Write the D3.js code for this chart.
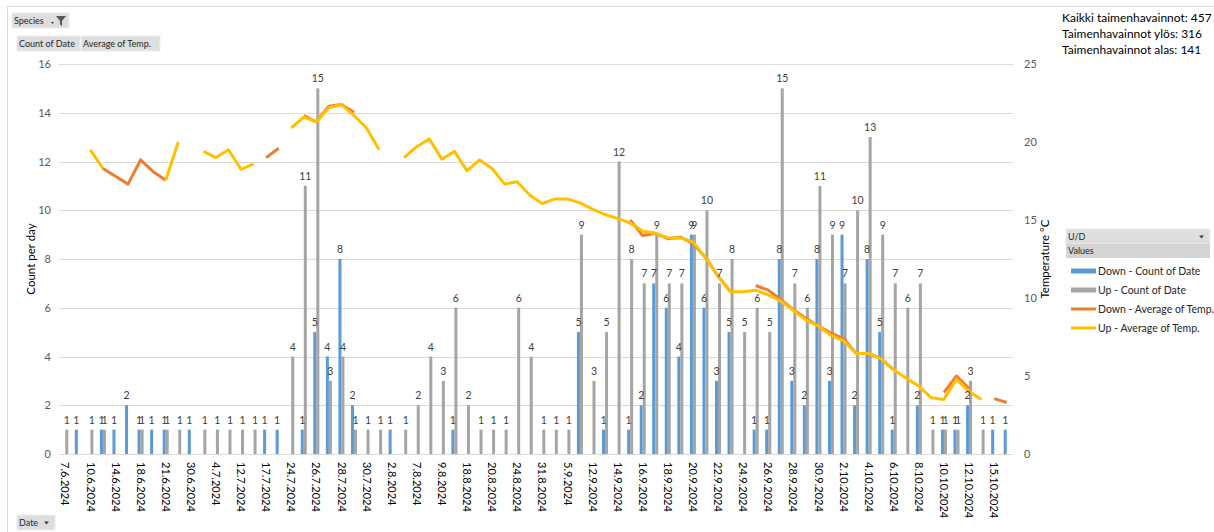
<!DOCTYPE html>
<html>
<head>
<meta charset="utf-8">
<script src="https://cdn.jsdelivr.net/npm/d3@7"></script>
<style>
    body { margin: 0; background: #fff; }
    svg { display: block; font-family: Lato, "Liberation Sans", sans-serif; }
</style>
</head>
<body>
<svg id="chart" width="1214" height="532"></svg>
<script>
"use strict";

// one category per observation day
var dates = [
    '7.6.2024', '8.6.2024', '10.6.2024', '12.6.2024', '14.6.2024', '16.6.2024', '18.6.2024', '19.6.2024',
    '21.6.2024', '25.6.2024', '30.6.2024', '2.7.2024', '4.7.2024', '8.7.2024', '12.7.2024', '15.7.2024',
    '17.7.2024', '21.7.2024', '24.7.2024', '25.7.2024', '26.7.2024', '27.7.2024', '28.7.2024', '29.7.2024',
    '30.7.2024', '31.7.2024', '2.8.2024', '5.8.2024', '7.8.2024', '8.8.2024', '9.8.2024', '14.8.2024',
    '18.8.2024', '19.8.2024', '20.8.2024', '22.8.2024', '24.8.2024', '27.8.2024', '31.8.2024', '3.9.2024',
    '5.9.2024', '9.9.2024', '12.9.2024', '13.9.2024', '14.9.2024', '15.9.2024', '16.9.2024', '17.9.2024',
    '18.9.2024', '19.9.2024', '20.9.2024', '21.9.2024', '22.9.2024', '23.9.2024', '24.9.2024', '25.9.2024',
    '26.9.2024', '27.9.2024', '28.9.2024', '29.9.2024', '30.9.2024', '1.10.2024', '2.10.2024', '3.10.2024',
    '4.10.2024', '5.10.2024', '6.10.2024', '7.10.2024', '8.10.2024', '9.10.2024', '10.10.2024', '11.10.2024',
    '12.10.2024', '14.10.2024', '15.10.2024', '16.10.2024'
];

// Down - Count of Date
var downCount = [
    null, 1, null, 1, 1, 2, 1, 1, 1, null, 1, null, null, null, null, null,
    1, 1, null, 1, 5, 4, 8, 2, null, null, 1, null, null, null, null, 1,
    null, null, null, null, null, null, null, null, null, 5, null, 1, null, 1,
    2, 7, 6, 4, 9, 6, 3, 5, null, 1, 1, 8, 3, 2, 8, 3,
    9, 2, 8, 5, 1, null, 2, null, 1, 1, 2, null, 1, 1
];

// Up - Count of Date
var upCount = [
    1, null, 1, 1, null, null, 1, null, 1, 1, null, 1, 1, 1, 1, 1,
    null, null, 4, 11, 15, 3, 4, 1, 1, 1, null, 1, 2, 4, 3, 6,
    2, 1, 1, 1, 6, 4, 1, 1, 1, 9, 3, 5, 12, 8, 7, 9,
    7, 7, 9, 10, 7, 8, 5, 6, 5, 15, 7, 6, 11, 9, 7, 10,
    13, 9, 7, 6, 7, 1, 1, 1, 3, 1, null, null
];

// Down - Average of Temp.
var downTemp = [
    null, null, null, 18.3, 17.8, 17.3, 18.85, 18.1, 17.55, null, null, null, null, null, null, null,
    19.0, 19.6, null, 21.7, 21.3, 22.3, 22.4, 21.9, null, null, null, null, null, null, null, null,
    null, null, null, null, null, null, null, null, null, null, null, null, null, 15.0,
    14.0, 14.15, 13.8, 13.9, 13.5, 12.6, 11.4, 10.4, null, 10.8, 10.5, 9.9, 9.25, 8.7, 8.2, 7.75,
    7.4, 6.45, 6.45, 6.1, 5.4, null, null, null, 3.95, 5.0, 4.2, null, 3.55, 3.3
];

// Up - Average of Temp.
var upTemp = [
    null, null, 19.5, 18.3, null, null, null, null, 17.55, 20.0, null, 19.4, 19.0, 19.5, 18.25, 18.6,
    null, null, 20.9, 21.6, 21.3, 22.2, 22.4, 21.7, 20.9, 19.5, null, 19.0, 19.7, 20.2, 18.9, 19.4,
    18.15, 18.85, 18.3, 17.3, 17.45, 16.6, 16.05, 16.35, 16.35, 16.1, 15.7, 15.35, 15.1, 14.8,
    14.3, 14.15, 13.85, 13.85, 13.6, 12.6, 11.4, 10.4, 10.4, 10.5, 10.2, 9.8, 9.2, 8.6, 8.2, 7.6,
    7.25, 6.45, 6.45, 6.1, 5.4, 4.85, 4.35, 3.6, 3.5, 4.8, 4.0, 3.5, null, null
];

var countTicks = [0, 2, 4, 6, 8, 10, 12, 14, 16];
var tempTicks = [0, 5, 10, 15, 20, 25];

var totals = [
    'Kaikki taimenhavainnot: 457',
    'Taimenhavainnot ylös: 316',
    'Taimenhavainnot alas: 141'
];

var series = [
    { name: 'Down - Count of Date', key: 'Down', type: 'bar', color: '#5b9bd5', values: downCount },
    { name: 'Up - Count of Date', key: 'Up', type: 'bar', color: '#a5a5a5', values: upCount },
    { name: 'Down - Average of Temp.', key: 'Down', type: 'line', color: '#ed7d31', values: downTemp },
    { name: 'Up - Average of Temp.', key: 'Up', type: 'line', color: '#ffc000', values: upTemp }
];

var plot = { left: 59, right: 1013, top: 64, bottom: 454 };
var svg = d3.select('#chart');

var x = d3.scaleBand()
    .domain(dates)
    .range([plot.left, plot.right])
    .paddingInner(0.52)
    .paddingOuter(0.26);

var xSeries = d3.scaleBand()
    .domain(['Down', 'Up'])
    .range([0, x.bandwidth()]);

var yCount = d3.scaleLinear().domain([0, 16]).range([plot.bottom, plot.top]);
var yTemp = d3.scaleLinear().domain([0, 25]).range([plot.bottom, plot.top]);

// chart area border
svg.append('rect')
    .attr('x', 7.5).attr('y', 6.5)
    .attr('width', 1230).attr('height', 540)
    .attr('fill', 'none')
    .attr('stroke', '#d9d9d9');

// gridlines
svg.append('g')
    .selectAll('line')
    .data(countTicks)
    .join('line')
    .attr('x1', plot.left).attr('x2', plot.right)
    .attr('y1', function(d) { return Math.round(yCount(d)) + 0.5; })
    .attr('y2', function(d) { return Math.round(yCount(d)) + 0.5; })
    .attr('stroke', '#d9d9d9')
    .attr('stroke-width', 1);

// left axis
var leftAxis = svg.append('g')
    .attr('transform', 'translate(' + (plot.left - 8) + ',0)')
    .call(d3.axisLeft(yCount).tickValues(countTicks).tickSize(0).tickPadding(0));
leftAxis.select('.domain').remove();
leftAxis.selectAll('text').attr('font-size', 11).attr('fill', '#595959').attr('font-family', 'Lato, sans-serif');

// right axis
var rightAxis = svg.append('g')
    .attr('transform', 'translate(' + (plot.right + 11) + ',0)')
    .call(d3.axisRight(yTemp).tickValues(tempTicks).tickSize(0).tickPadding(0));
rightAxis.select('.domain').remove();
rightAxis.selectAll('text').attr('font-size', 11).attr('fill', '#595959').attr('font-family', 'Lato, sans-serif');

// axis titles
svg.append('text')
    .attr('transform', 'translate(35,' + ((plot.top + plot.bottom) / 2) + ') rotate(-90)')
    .attr('text-anchor', 'middle')
    .attr('font-size', 11.5)
    .attr('fill', '#000')
    .text('Count per day');

svg.append('text')
    .attr('transform', 'translate(1049,' + ((plot.top + plot.bottom) / 2) + ') rotate(-90)')
    .attr('text-anchor', 'middle')
    .attr('font-size', 11.5)
    .attr('fill', '#000')
    .text('Temperature °C');

// bottom axis, every second date labelled
var bottomAxis = svg.append('g')
    .attr('transform', 'translate(0,' + plot.bottom + ')')
    .call(d3.axisBottom(x)
        .tickValues(dates.filter(function(d, i) { return i % 2 === 0; }))
        .tickSize(0)
        .tickPadding(0));
bottomAxis.select('.domain').remove();
bottomAxis.selectAll('text')
    .attr('transform', 'rotate(90)')
    .attr('x', 8)
    .attr('y', 0)
    .attr('dy', '0.35em')
    .attr('text-anchor', 'start')
    .attr('font-size', 11)
    .attr('fill', '#000')
    .attr('font-family', 'Lato, sans-serif');

// bars
var barSeries = series.filter(function(s) { return s.type === 'bar'; });

var barGroups = svg.append('g')
    .selectAll('g')
    .data(barSeries)
    .join('g')
    .attr('fill', function(s) { return s.color; });

barGroups.selectAll('rect')
    .data(function(s) {
        return s.values.map(function(v, i) { return { key: s.key, date: dates[i], value: v }; })
            .filter(function(d) { return d.value != null; });
    })
    .join('rect')
    .attr('x', function(d) { return x(d.date) + xSeries(d.key); })
    .attr('width', xSeries.bandwidth())
    .attr('y', function(d) { return yCount(d.value); })
    .attr('height', function(d) { return yCount(0) - yCount(d.value); });

// axis line on top of bar bases
svg.append('line')
    .attr('x1', plot.left).attr('x2', plot.right)
    .attr('y1', plot.bottom + 0.5).attr('y2', plot.bottom + 0.5)
    .attr('stroke', '#d9d9d9');

// temperature lines
var line = d3.line()
    .defined(function(d) { return d.value != null; })
    .x(function(d) { return x(d.date) + x.bandwidth() / 2; })
    .y(function(d) { return yTemp(d.value); });

svg.append('g')
    .selectAll('path')
    .data(series.filter(function(s) { return s.type === 'line'; }))
    .join('path')
    .attr('fill', 'none')
    .attr('stroke', function(s) { return s.color; })
    .attr('stroke-width', 3)
    .attr('stroke-linejoin', 'round')
    .attr('d', function(s) {
        return line(s.values.map(function(v, i) { return { date: dates[i], value: v }; }));
    });

// data labels over bars (pairs of 1s sit tight together like "11")
var labelGroup = svg.append('g');
barSeries.forEach(function(s) {
    labelGroup.append('g')
        .selectAll('text')
        .data(s.values.map(function(v, i) { return { key: s.key, date: dates[i], value: v }; })
            .filter(function(d) { return d.value != null; }))
        .join('text')
        .attr('x', function(d) { return x(d.date) + xSeries(d.key) + xSeries.bandwidth() / 2; })
        .attr('y', function(d) { return yCount(d.value) - 6; })
        .attr('text-anchor', 'middle')
        .attr('font-size', 10.5)
        .attr('fill', '#404040')
        .text(function(d) { return d.value; });
});

// totals text
svg.append('g')
    .selectAll('text')
    .data(totals)
    .join('text')
    .attr('x', 1062)
    .attr('y', function(d, i) { return 22 + i * 16; })
    .attr('font-size', 12)
    .attr('fill', '#000')
    .text(function(d) { return d; });

// pivot field buttons
function fieldButton(x0, y0, w, h, label, arrow) {
    var g = svg.append('g').attr('transform', 'translate(' + x0 + ',' + y0 + ')');
    g.append('rect')
        .attr('width', w).attr('height', h)
        .attr('fill', '#dedede')
        .attr('stroke', '#eeeeee');
    g.append('text')
        .attr('x', 2).attr('y', h / 2)
        .attr('dy', '0.35em')
        .attr('font-size', 9)
        .attr('fill', '#262626')
        .text(label);
    if (arrow) {
        g.append('path')
            .attr('d', 'M' + (w - 11) + ',' + (h / 2 - 1) + 'l5,0l-2.5,3z')
            .attr('fill', '#404040');
    }
    return g;
}

var species = fieldButton(12, 13, 57, 15, 'Species', false);
species.append('path')
    .attr('d', 'M39,9l3,0l-1.5,2z')
    .attr('fill', '#404040');
species.append('path')
    .attr('d', 'M44,3l10,0l-4,5l0,5l-2,-1.5l0,-3.5z')
    .attr('fill', '#595959');

fieldButton(17, 36, 63, 15, 'Count of Date', false);
fieldButton(81, 36, 79, 15, 'Average of Temp.', false);
fieldButton(17, 515, 38, 15, 'Date', true);

// legend
fieldButton(1066, 229, 144, 15, 'U/D', true);
var valuesHeader = svg.append('g').attr('transform', 'translate(1066,244)');
valuesHeader.append('rect').attr('width', 144).attr('height', 14).attr('fill', '#d4d4d4');
valuesHeader.append('text')
    .attr('x', 2).attr('y', 7).attr('dy', '0.35em')
    .attr('font-size', 9).attr('fill', '#262626')
    .text('Values');

var legend = svg.append('g')
    .selectAll('g')
    .data(series)
    .join('g')
    .attr('transform', function(d, i) { return 'translate(1071,' + (271 + i * 19) + ')'; });

legend.append('rect')
    .attr('x', 0)
    .attr('y', function(d) { return d.type === 'bar' ? -2.5 : -1.5; })
    .attr('width', 25)
    .attr('height', function(d) { return d.type === 'bar' ? 5 : 3; })
    .attr('fill', function(d) { return d.color; });

legend.append('text')
    .attr('x', 27)
    .attr('dy', '0.35em')
    .attr('font-size', 10.5)
    .attr('fill', '#262626')
    .text(function(d) { return d.name; });
</script>
</body>
</html>
